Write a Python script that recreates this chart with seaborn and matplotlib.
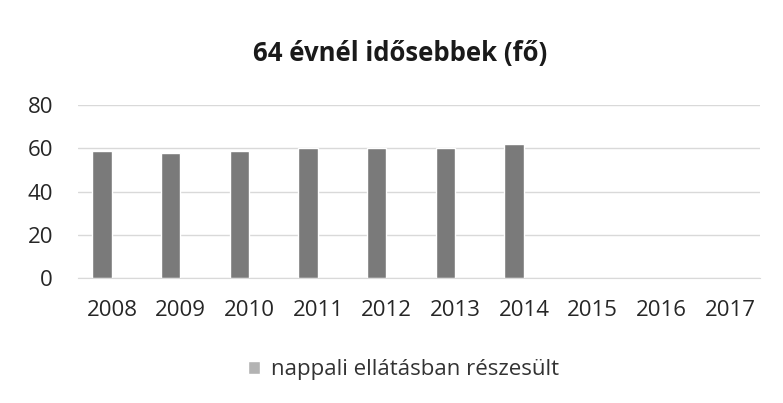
import matplotlib
matplotlib.use("Agg")
import matplotlib.pyplot as plt
import matplotlib.transforms as mtransforms
import seaborn as sns
import pandas as pd
import numpy as np

# Data
years = ['2008', '2009', '2010', '2011', '2012', '2013', '2014', '2015', '2016', '2017']
values = [59, 58, 59, 60, 60, 60, 62, np.nan, np.nan, np.nan]
series_name = 'nappali ellátásban részesült'
title = '64 évnél idősebbek (fő)'

df = pd.DataFrame({'Év': years, 'Fő': values})

sns.set_style('white')
plt.rcParams['font.family'] = ['Open Sans', 'DejaVu Sans']

fig = plt.figure(figsize=(7.83, 4.03), dpi=100)
ax = fig.add_axes([0.0996, 0.310, 0.871, 0.429])

sns.barplot(data=df, x='Év', y='Fő', order=years, color='#7a7a7a',
            saturation=1, width=0.28, ax=ax, label=series_name)

ax.set_xlim(-0.35, 9.58)
ax.set_ylim(0, 80)
ax.set_yticks([0, 20, 40, 60, 80])
ax.yaxis.grid(True, color='#d9d9d9', linewidth=1)
ax.set_axisbelow(True)
for s in ['top', 'right', 'left']:
    ax.spines[s].set_visible(False)
ax.spines['bottom'].set_color('#d9d9d9')
ax.tick_params(axis='both', length=0, labelsize=16, colors='#262626')
ax.tick_params(axis='x', pad=16)
ax.tick_params(axis='y', pad=18)
ax.set_xlabel('')
ax.set_ylabel('')

# the year labels sit a little right of the bars in the original
shift = mtransforms.ScaledTranslation(0.10, 0, fig.dpi_scale_trans)
for lbl in ax.get_xticklabels():
    lbl.set_transform(lbl.get_transform() + shift)

fig.text(0.511, 0.868, title, ha='center', va='center', fontsize=18.5,
         fontweight='bold', color='#1a1a1a')

leg = ax.legend(loc='center', bbox_to_anchor=(0.477, -0.53), frameon=False,
                fontsize=16, handlelength=0.55, handleheight=0.55, handletextpad=0.5,
                labelcolor='#333333')
for h in leg.legend_handles:
    h.set_facecolor('#b3b3b3')

fig.savefig('out.png', dpi=100, facecolor='white')
